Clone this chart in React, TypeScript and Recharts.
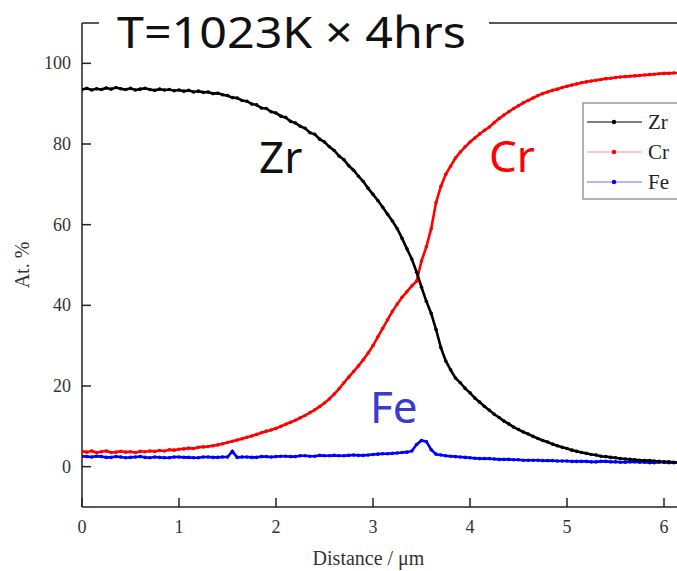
import { CartesianGrid, Line, LineChart, ReferenceLine, XAxis, YAxis } from "recharts";

// distance along the line scan (µm), 0.05 µm step
const distance = [
  0, 0.05, 0.1, 0.15, 0.2, 0.25, 0.3, 0.35, 0.4, 0.45, 0.5, 0.55, 0.6, 0.65, 0.7, 0.75, 0.8, 0.85, 0.9, 0.95,
  1, 1.05, 1.1, 1.15, 1.2, 1.25, 1.3, 1.35, 1.4, 1.45, 1.5, 1.55, 1.6, 1.65, 1.7, 1.75, 1.8, 1.85, 1.9, 1.95,
  2, 2.05, 2.1, 2.15, 2.2, 2.25, 2.3, 2.35, 2.4, 2.45, 2.5, 2.55, 2.6, 2.65, 2.7, 2.75, 2.8, 2.85, 2.9, 2.95,
  3, 3.05, 3.1, 3.15, 3.2, 3.25, 3.3, 3.35, 3.4, 3.45, 3.5, 3.55, 3.6, 3.65, 3.7, 3.75, 3.8, 3.85, 3.9, 3.95,
  4, 4.05, 4.1, 4.15, 4.2, 4.25, 4.3, 4.35, 4.4, 4.45, 4.5, 4.55, 4.6, 4.65, 4.7, 4.75, 4.8, 4.85, 4.9, 4.95,
  5, 5.05, 5.1, 5.15, 5.2, 5.25, 5.3, 5.35, 5.4, 5.45, 5.5, 5.55, 5.6, 5.65, 5.7, 5.75, 5.8, 5.85, 5.9, 5.95,
  6, 6.05, 6.1, 6.15,
];

const zr = [
  93.5, 93.8, 93.4, 93.7, 93.5, 93.9, 93.6, 94.0, 93.7, 93.5, 93.8, 93.4, 93.6, 93.8, 93.5, 93.3, 93.6, 93.4, 93.5, 93.2,
  93.4, 93.1, 93.3, 92.9, 93.1, 92.8, 92.9, 92.5, 92.6, 92.2, 92.0, 91.5, 91.4, 90.8, 90.6, 89.9, 89.7, 88.9, 88.8, 88.0,
  87.7, 86.9, 86.6, 85.6, 85.2, 84.4, 83.9, 82.8, 82.4, 81.2, 80.5, 79.3, 78.4, 77.0, 76.1, 74.6, 73.5, 72.0, 70.7, 69.0,
  67.5, 66.0, 64.3, 62.6, 60.9, 59.0, 56.6, 54.0, 51.5, 48.2, 44.5, 41.0, 38.0, 34.0, 29.5, 26.2, 24.0, 22.0, 20.8, 19.4,
  18.3, 17.0, 16.0, 14.9, 14.0, 13.0, 12.2, 11.3, 10.6, 9.8, 9.2, 8.6, 8.1, 7.5, 7.0, 6.5, 6.1, 5.6, 5.2, 4.8,
  4.5, 4.1, 3.8, 3.5, 3.3, 3.0, 2.9, 2.6, 2.5, 2.3, 2.2, 2.0, 1.9, 1.8, 1.7, 1.6, 1.5, 1.5, 1.4, 1.3,
  1.2, 1.2, 1.1, 1.1,
];

const cr = [
  3.8, 3.6, 3.9, 3.5, 3.7, 3.9, 3.5, 3.6, 3.8, 3.6, 3.7, 3.5, 3.8, 3.7, 3.9, 3.8, 4.0, 3.9, 4.2, 4.1,
  4.3, 4.4, 4.6, 4.5, 4.8, 4.9, 5.0, 5.2, 5.4, 5.7, 6.0, 6.3, 6.6, 6.9, 7.3, 7.6, 8.0, 8.4, 8.8, 9.1,
  9.5, 10.0, 10.5, 11.0, 11.5, 12.1, 12.7, 13.4, 14.1, 14.9, 15.8, 16.8, 18.0, 19.3, 20.8, 22.2, 23.6, 25.0, 26.5, 28.2,
  30.0, 32.2, 34.3, 36.4, 38.5, 40.3, 42.0, 43.4, 44.8, 46.0, 51.0, 54.5, 59.0, 65.5, 69.5, 72.5, 74.5, 76.5, 78.0, 79.3,
  80.5, 81.5, 82.5, 83.4, 84.2, 85.3, 86.3, 87.2, 88.0, 88.8, 89.5, 90.2, 90.8, 91.4, 92.0, 92.5, 92.9, 93.3, 93.6, 94.0,
  94.3, 94.6, 94.9, 95.2, 95.4, 95.6, 95.8, 96.0, 96.2, 96.3, 96.5, 96.6, 96.7, 96.8, 96.9, 97.0, 97.1, 97.2, 97.3, 97.4,
  97.5, 97.5, 97.6, 97.6,
];

const fe = [
  2.6, 2.5, 2.4, 2.6, 2.5, 2.3, 2.3, 2.5, 2.4, 2.2, 2.3, 2.4, 2.5, 2.3, 2.2, 2.4, 2.3, 2.2, 2.2, 2.4,
  2.4, 2.3, 2.3, 2.2, 2.2, 2.4, 2.4, 2.3, 2.3, 2.4, 2.4, 3.8, 2.3, 2.4, 2.4, 2.3, 2.3, 2.5, 2.5, 2.4,
  2.5, 2.6, 2.6, 2.5, 2.5, 2.7, 2.7, 2.6, 2.6, 2.8, 2.7, 2.7, 2.8, 2.7, 2.7, 2.8, 2.9, 2.8, 2.8, 2.9,
  3.0, 3.1, 3.2, 3.2, 3.3, 3.4, 3.5, 3.6, 3.9, 5.5, 6.5, 6.2, 4.2, 3.1, 2.9, 2.7, 2.6, 2.5, 2.4, 2.3,
  2.2, 2.1, 2.0, 2.0, 2.0, 1.9, 1.8, 1.8, 1.8, 1.7, 1.7, 1.6, 1.6, 1.6, 1.6, 1.5, 1.5, 1.5, 1.4, 1.4,
  1.4, 1.3, 1.3, 1.3, 1.3, 1.2, 1.2, 1.3, 1.3, 1.2, 1.2, 1.1, 1.1, 1.2, 1.2, 1.1, 1.1, 1.0, 1.0, 1.1,
  1.1, 1.0, 1.0, 1.0,
];

const xTicks = [0, 1, 2, 3, 4, 5, 6];
const yTicks = [0, 20, 40, 60, 80, 100];

const legendItems = [
  { name: "Zr", line: "#000000", dot: "#000000" },
  { name: "Cr", line: "#ff8a8a", dot: "#ff0000" },
  { name: "Fe", line: "#6a6aff", dot: "#0000ff" },
];

const SERIF = "'Liberation Serif', 'Times New Roman', serif";
const SANS = "'Noto Sans', 'DejaVu Sans', sans-serif";

const XTick = (props: any) => {
  const { x, y, payload } = props;
  return (
    <g>
      <line x1={x} y1={y} x2={x} y2={y - 9} stroke="#222" strokeWidth={1.5} />
      <text x={x} y={y + 26} textAnchor="middle" fontFamily={SERIF} fontSize={18} fill="#333">
        {payload.value}
      </text>
    </g>
  );
};

const YTick = (props: any) => {
  const { x, y, payload } = props;
  return (
    <g>
      <line x1={x} y1={y} x2={x + 9} y2={y} stroke="#222" strokeWidth={1.5} />
      <text x={x - 11} y={y + 6} textAnchor="end" fontFamily={SERIF} fontSize={18} fill="#333">
        {payload.value}
      </text>
    </g>
  );
};

export default function App() {
  const data = distance.map((d, i) => ({ d, zr: zr[i], cr: cr[i], fe: fe[i] }));

  return (
    <div style={{ position: "absolute", left: 0, top: 0, width: 677, height: 571, background: "#fff" }}>
      <LineChart width={677} height={571} data={data} margin={{ top: 23, right: 0, bottom: 0, left: 12 }}>
        <CartesianGrid stroke="none" />
        <XAxis
          dataKey="d"
          type="number"
          domain={[0, 6.134]}
          allowDataOverflow
          ticks={xTicks}
          height={64}
          tickSize={0}
          tickMargin={0}
          tick={<XTick />}
          axisLine={{ stroke: "#222", strokeWidth: 1.5 }}
          label={{
            value: "Distance / μm",
            position: "insideBottom",
            offset: 6,
            dx: -11,
            fontFamily: SERIF,
            fontSize: 20,
            fill: "#333",
          }}
        />
        <YAxis
          type="number"
          domain={[-10, 110]}
          allowDataOverflow
          ticks={yTicks}
          width={70}
          tickSize={0}
          tickMargin={0}
          tick={<YTick />}
          axisLine={{ stroke: "#222", strokeWidth: 1.5 }}
          label={{
            value: "At. %",
            angle: -90,
            position: "insideLeft",
            offset: 10,
            textAnchor: "middle",
            fontFamily: SERIF,
            fontSize: 20,
            fill: "#333",
          }}
        />
        <ReferenceLine y={110} stroke="#222" strokeWidth={1.5} />
        <Line
          dataKey="fe"
          type="linear"
          stroke="#0000ff"
          strokeWidth={2.6}
          dot={{ r: 1.8, fill: "#0000ff", stroke: "none" }}
          isAnimationActive={false}
        />
        <Line
          dataKey="cr"
          type="linear"
          stroke="#ff0000"
          strokeWidth={2.6}
          dot={{ r: 1.8, fill: "#ff0000", stroke: "none" }}
          isAnimationActive={false}
        />
        <Line
          dataKey="zr"
          type="linear"
          stroke="#000000"
          strokeWidth={2.6}
          dot={{ r: 1.8, fill: "#000000", stroke: "none" }}
          isAnimationActive={false}
        />
      </LineChart>

      <svg
        width={677}
        height={571}
        style={{ position: "absolute", left: 0, top: 0, pointerEvents: "none" }}
      >
        <rect x={99} y={4} width={390} height={46} fill="#fff" />
        <text x={117} y={48} fontFamily={SANS} fontSize={44} fill="#111" textLength={349} lengthAdjust="spacingAndGlyphs">
          T=1023K × 4hrs
        </text>

        <text x={259} y={173} fontFamily={SANS} fontSize={44} fill="#111">Zr</text>
        <text x={489} y={172} fontFamily={SANS} fontSize={44} fill="#ff0000">Cr</text>
        <text x={370} y={423} fontFamily={SANS} fontSize={44} fill="#3a3acc">Fe</text>

        <rect x={583} y={103} width={110} height={96} fill="#fff" stroke="#999" strokeWidth={1.5} />
        {legendItems.map((item, i) => {
          const cy = 122 + i * 30;
          return (
            <g key={item.name}>
              <line x1={587} y1={cy} x2={642} y2={cy} stroke={item.line} strokeWidth={1.2} />
              <circle cx={614} cy={cy} r={2.2} fill={item.dot} />
              <text x={648} y={cy + 7} fontFamily={SERIF} fontSize={21} fill="#222">
                {item.name}
              </text>
            </g>
          );
        })}
      </svg>
    </div>
  );
}
